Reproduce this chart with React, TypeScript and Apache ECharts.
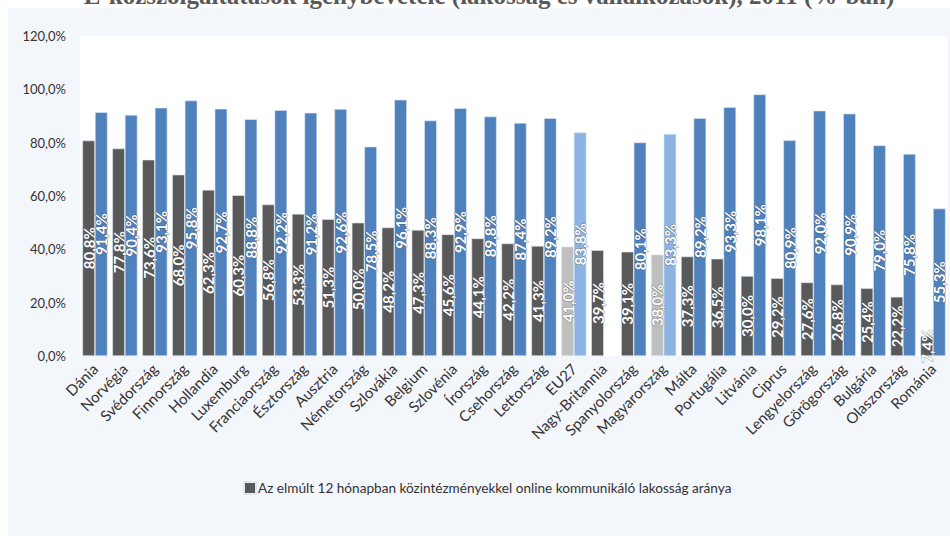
import React, { useEffect, useRef } from "react";
import * as echarts from "echarts";

const categories = [
  "Dánia", "Norvégia", "Svédország", "Finnország", "Hollandia", "Luxemburg",
  "Franciaország", "Észtország", "Ausztria", "Németország", "Szlovákia", "Belgium",
  "Szlovénia", "Írország", "Csehország", "Lettország", "EU27", "Nagy-Britannia",
  "Spanyolország", "Magyarország", "Málta", "Portugália", "Litvánia", "Ciprus",
  "Lengyelország", "Görögország", "Bulgária", "Olaszország", "Románia",
];

const populationValues = [
  80.8, 77.8, 73.6, 68.0, 62.3, 60.3, 56.8, 53.3, 51.3, 50.0, 48.2, 47.3, 45.6, 44.1,
  42.2, 41.3, 41.0, 39.7, 39.1, 38.0, 37.3, 36.5, 30.0, 29.2, 27.6, 26.8, 25.4, 22.2, 7.4,
];

const secondValues: (number | null)[] = [
  91.4, 90.4, 93.1, 95.8, 92.7, 88.8, 92.2, 91.2, 92.6, 78.5, 96.1, 88.3, 92.9, 89.8,
  87.4, 89.2, 83.8, null, 80.1, 83.3, 89.2, 93.3, 98.1, 80.9, 92.0, 90.9, 79.0, 75.8, 55.3,
];

const highlighted = ["EU27", "Magyarország"];

const legendLabel =
  "Az elmúlt 12 hónapban közintézményekkel online kommunikáló lakosság aránya";
const titleText =
  "E-közszolgáltatások igénybevétele (lakosság és vállalkozások), 2011 (%-ban)";

const fmt = (v: number) => v.toFixed(1).replace(".", ",") + "%";

export default function App() {
  const ref = useRef<HTMLDivElement>(null);
  useEffect(() => {
    if (!ref.current) return;
    const chart = echarts.init(ref.current, null, { renderer: "svg" });
    const font = "Lato, 'Open Sans', sans-serif";
    const labelCfg = {
      show: true,
      position: "inside",
      rotate: 90,
      color: "#ffffff",
      fontFamily: font,
      fontSize: 15,
      fontWeight: "bold",
      textBorderColor: "rgba(60,60,60,0.55)",
      textBorderWidth: 1,
      formatter: (p: any) => fmt(p.value),
    };
    chart.setOption({
      animation: false,
      backgroundColor: "#ffffff",
      graphic: [
        {
          type: "rect",
          z: -10,
          shape: { x: 8, y: 8, width: 950, height: 536 },
          style: { fill: "#f3f6fb" },
        },
        {
          type: "text",
          x: 489,
          y: 8,
          style: {
            text: titleText,
            fill: "#595959",
            font: "bold 25px 'Liberation Serif', 'DejaVu Serif', serif",
            textAlign: "center",
            textVerticalAlign: "bottom",
          },
        },
      ],
      grid: {
        left: 80,
        right: 2,
        top: 36,
        bottom: 180,
        show: true,
        backgroundColor: "#ffffff",
        borderWidth: 0,
      },
      legend: {
        data: [legendLabel],
        left: 238,
        top: 476,
        itemWidth: 12,
        itemHeight: 12,
        itemGap: 2,
        icon: "rect",
        textStyle: { fontFamily: font, fontSize: 13.6, color: "#333333", padding: [0, 0, 0, -3] },
      },
      xAxis: {
        type: "category",
        data: categories,
        axisLine: { show: false },
        axisTick: { show: false },
        axisLabel: {
          interval: 0,
          rotate: 45,
          margin: 10,
          fontFamily: font,
          fontSize: 15,
          color: "#333333",
        },
      },
      yAxis: {
        type: "value",
        min: 0,
        max: 120,
        interval: 20,
        splitLine: { show: false },
        axisLine: { show: false },
        axisTick: { show: false },
        axisLabel: {
          formatter: (v: number) => fmt(v),
          fontFamily: font,
          fontSize: 13,
          color: "#333333",
          margin: 14,
        },
      },
      series: [
        {
          name: legendLabel,
          type: "bar",
          barGap: "0%",
          barCategoryGap: "16%",
          itemStyle: { color: "#595959", borderColor: "#dfe7f2", borderWidth: 0.6 },
          data: populationValues.map((v, i) => ({
            value: v,
            itemStyle: highlighted.includes(categories[i]) ? { color: "#bfbfbf" } : undefined,
          })),
          label: labelCfg,
        },
        {
          name: "Vállalkozások",
          type: "bar",
          itemStyle: { color: "#4f81bd", borderColor: "#dfe7f2", borderWidth: 0.6 },
          data: secondValues.map((v, i) =>
            v === null
              ? "-"
              : {
                  value: v,
                  itemStyle: highlighted.includes(categories[i]) ? { color: "#8db3e2" } : undefined,
                }
          ),
          label: labelCfg,
        },
      ],
    });
    return () => chart.dispose();
  }, []);
  return (
    <div
      ref={ref}
      style={{ position: "absolute", left: 0, top: 0, width: 950, height: 536 }}
    />
  );
}
